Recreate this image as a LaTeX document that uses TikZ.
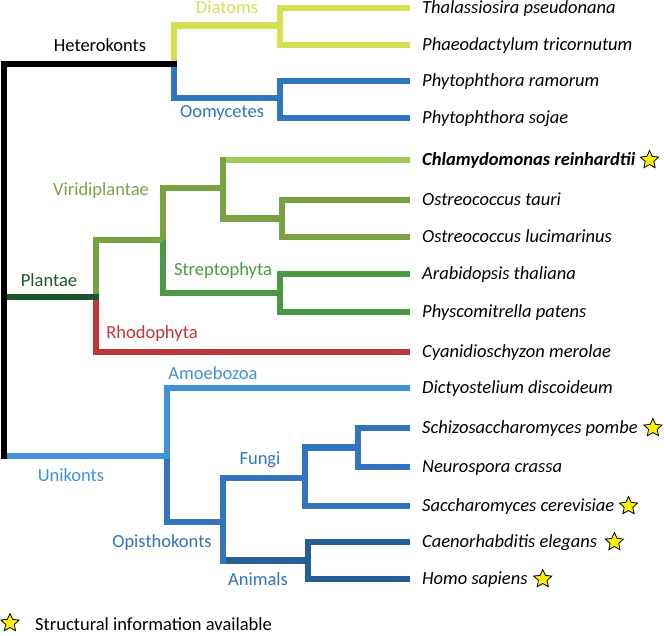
\documentclass[tikz,border=0pt]{standalone}
\usepackage{fontspec}
\setmainfont{Carlito}
\usetikzlibrary{shapes.geometric}
\definecolor{diatC}{RGB}{212,224,82}
\definecolor{oomC}{RGB}{48,117,191}
\definecolor{viriC}{RGB}{122,162,67}
\definecolor{chlamC}{RGB}{160,200,90}
\definecolor{strepC}{RGB}{74,152,68}
\definecolor{plantC}{RGB}{30,84,46}
\definecolor{rhodC}{RGB}{190,54,56}
\definecolor{uniC}{RGB}{64,146,216}
\definecolor{opisC}{RGB}{51,114,188}
\definecolor{animC}{RGB}{40,94,150}
\begin{document}
\begin{tikzpicture}[x=1pt,y=-1pt,
  br/.style={line width=6.3pt, line join=miter},
  leaf/.style={anchor=west, inner xsep=12pt, inner ysep=0pt, text height=12pt, text depth=2pt, font=\fontsize{18.5}{20}\selectfont\itshape},
  clade/.style={anchor=base, inner sep=0pt, font=\fontsize{18.5}{20}\selectfont},
  ystar/.style={star, star points=5, star point ratio=2.1, minimum size=19pt, inner sep=0pt, draw=black, fill=yellow, line width=0.8pt}]
\useasboundingbox (0,0) rectangle (664,635);

% leaves
\node[leaf] (t1) at (410,8) {Thalassiosira pseudonana};
\node[leaf] (t2) at (410,45) {Phaeodactylum tricornutum};
\node[leaf] (t3) at (410,81) {Phytophthora ramorum};
\node[leaf] (t4) at (410,118) {Phytophthora sojae};
\node[leaf, font=\fontsize{18.5}{20}\selectfont\bfseries\itshape] (t5) at (410,160) {Chlamydomonas reinhardtii};
\node[leaf] (t6) at (410,200) {Ostreococcus tauri};
\node[leaf] (t7) at (410,237) {Ostreococcus lucimarinus};
\node[leaf] (t8) at (410,274) {Arabidopsis thaliana};
\node[leaf] (t9) at (410,312) {Physcomitrella patens};
\node[leaf] (t10) at (410,352) {Cyanidioschyzon merolae};
\node[leaf] (t11) at (410,388) {Dictyostelium discoideum};
\node[leaf] (t12) at (410,428) {Schizosaccharomyces pombe};
\node[leaf] (t13) at (410,467) {Neurospora crassa};
\node[leaf] (t14) at (410,506) {Saccharomyces cerevisiae};
\node[leaf] (t15) at (410,542) {Caenorhabditis elegans};
\node[leaf] (t16) at (410,579) {Homo sapiens};

% internal coordinates
\coordinate (R) at (4,64);
\coordinate (Rb) at (4,459);
\coordinate (H) at (174,64);
\coordinate (Hr) at (177.15,64);
\coordinate (D) at (280,25.5);
\coordinate (O) at (280,98);
\coordinate (rp) at (4,297);
\coordinate (P) at (96,297);
\coordinate (Pr) at (99.15,297);
\coordinate (V) at (163,240);
\coordinate (C) at (223,188);
\coordinate (Ct) at (226.15,160);
\coordinate (Os) at (282,218.5);
\coordinate (S) at (280,293);
\coordinate (ru) at (4,456);
\coordinate (U) at (167,456);
\coordinate (O2) at (223,522);
\coordinate (F) at (305,478);
\coordinate (SN) at (358,447.5);
\coordinate (A) at (308,560.5);
\coordinate (Ab) at (223,563.65);
\coordinate (Abr) at (226.15,560.5);

% Heterokonts
\draw[br,diatC] (H) |- (D);
\draw[br,diatC] (t1.west) -| (D) |- (t2.west);
\draw[br,oomC] (H) |- (O);
\draw[br,oomC] (t3.west) -| (O) |- (t4.west);

% Plantae
\draw[br,rhodC] (P) |- (t10.west);
\draw[br,strepC] (V) |- (S);
\draw[br,strepC] (t8.west) -| (S) |- (t9.west);
\draw[br,viriC] (V) |- (C);
\draw[br,viriC] (P) |- (V);
\draw[br,viriC] (C) |- (Os);
\draw[br,viriC] (t6.west) -| (Os) |- (t7.west);
\draw[br,chlamC] (Ct) -- (t5.west);
\draw[br,viriC] (C) |- (Ct);
\draw[br,plantC] (rp) -- (Pr);

% Unikonts
\draw[br,opisC] (U) |- (O2);
\draw[br,uniC] (ru) -- (U) |- (t11.west);
\draw[br,opisC] (O2) |- (F);
\draw[br,opisC] (F) |- (SN);
\draw[br,opisC] (t12.west) -| (SN) |- (t13.west);
\draw[br,opisC] (F) |- (t14.west);
\draw[br,animC] (Abr) -- (A);
\draw[br,animC] (t15.west) -| (A) |- (t16.west);
\draw[br,opisC] (O2) -- (Ab);

% root
\draw[br,black] (Hr) -- (R) -- (Rb);

% clade labels
\node[clade] (lh) at (100,51) {Heterokonts};
\node[clade,text=diatC] (ld) at (227,13) {Diatoms};
\node[clade,text=oomC] (lo) at (222,117) {Oomycetes};
\node[clade,text=viriC] (lv) at (101,195) {Viridiplantae};
\node[clade,text=plantC] (lp) at (49,286) {Plantae};
\node[clade,text=strepC] (ls) at (223,275) {Streptophyta};
\node[clade,text=rhodC] (lr) at (152,338) {Rhodophyta};
\node[clade,text=uniC] (la) at (213,379) {Amoebozoa};
\node[clade,text=uniC] (lu) at (71,481) {Unikonts};
\node[clade,text=opisC] (lf) at (260,464) {Fungi};
\node[clade,text=opisC] (lop) at (162,547) {Opisthokonts};
\node[clade,text=opisC] (lan) at (258,585) {Animals};

% stars
\node[ystar] (s5) at ([xshift=2pt]t5.east) {};
\node[ystar] (s12) at ([xshift=3pt]t12.east) {};
\node[ystar] (s14) at ([xshift=2pt]t14.east) {};
\node[ystar] (s15) at ([xshift=5pt]t15.east) {};
\node[ystar] (s16) at ([xshift=3pt]t16.east) {};

% legend
\node[ystar] (s0) at (10,623) {};
\node[anchor=base west, inner sep=0pt, font=\fontsize{18.5}{20}\selectfont] (leg) at (35,630) {Structural information available};
\end{tikzpicture}
\end{document}
